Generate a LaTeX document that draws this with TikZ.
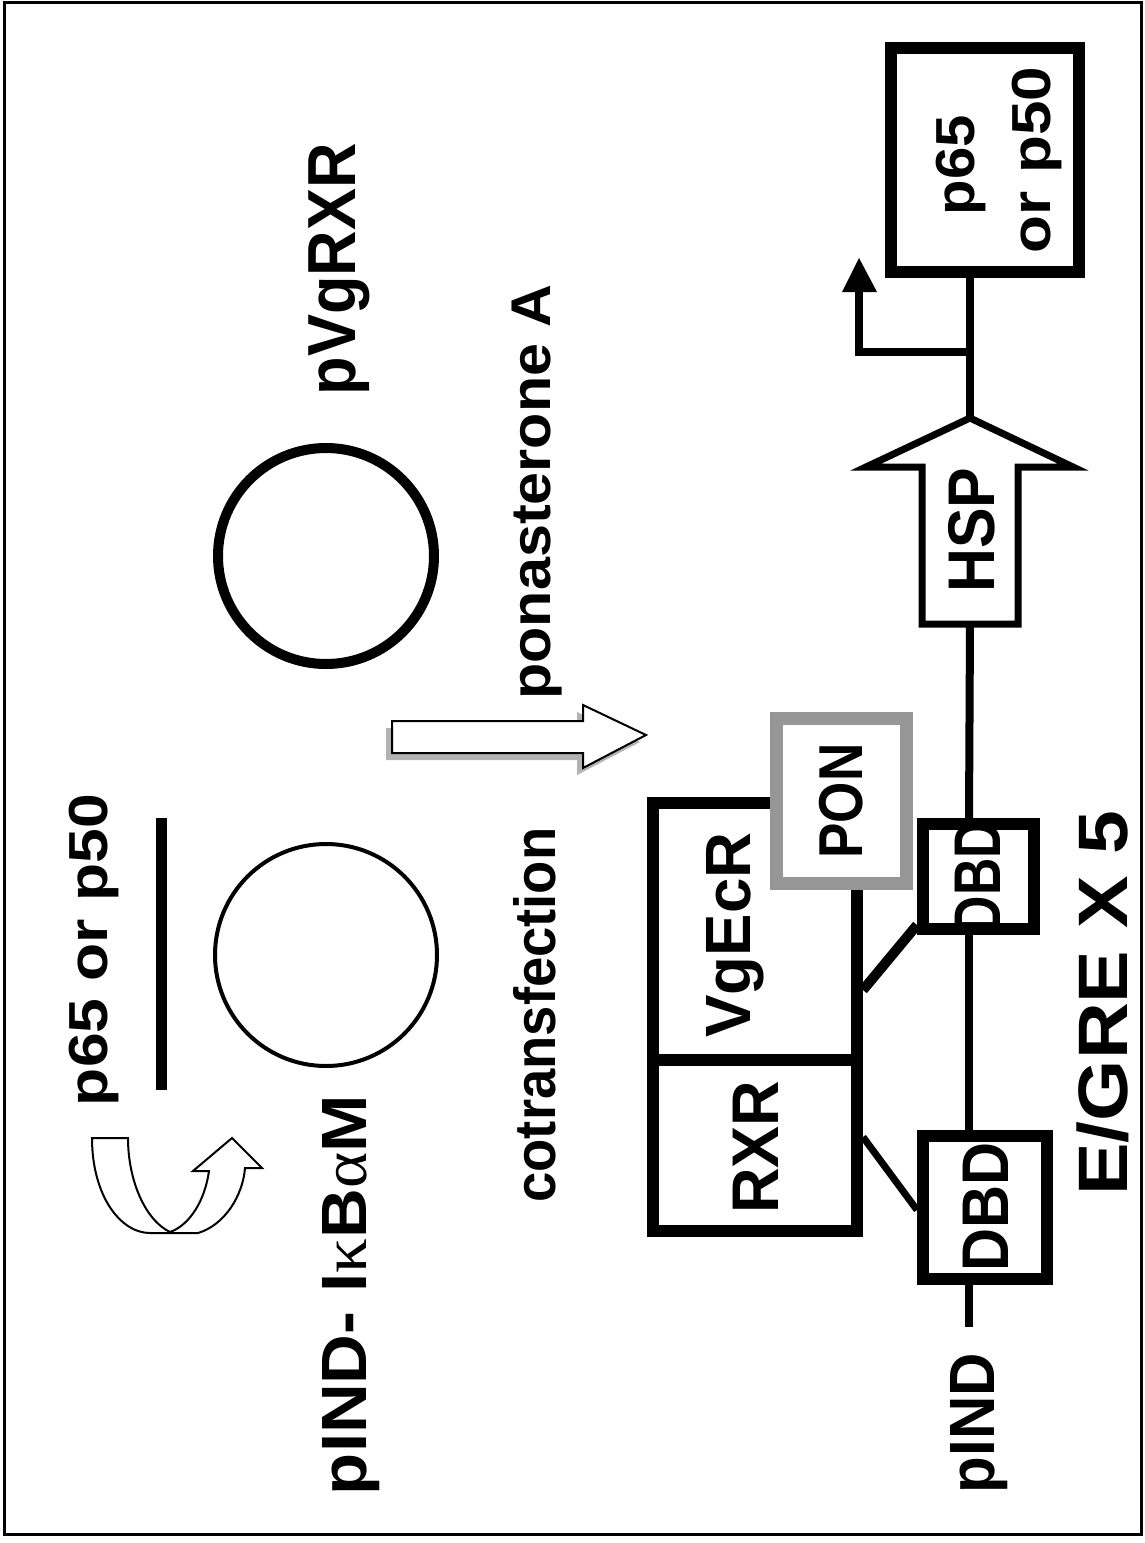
\documentclass[tikz,border=0pt]{standalone}
\usepackage{fontspec}
\setmainfont{Liberation Sans}
\newfontfamily\grk{Liberation Serif}
\usepackage{graphicx}
\newcommand\fsz[1]{\fontsize{#1}{#1}\selectfont}
\newcommand\fitw[2]{\resizebox{#1}{\height}{#2}}
\definecolor{pongray}{RGB}{150,150,150}
\begin{document}
\begin{tikzpicture}[x=1pt,y=-1pt,
  lbl/.style={rotate=90,inner sep=0pt,anchor=base,font=\bfseries},
  blk/.style={draw=black,line width=12pt,fill=white,inner sep=0pt},
  wire/.style={line width=8pt},
  hollow/.style={draw=black,line width=2pt,fill=white,line join=miter}]
\useasboundingbox (0,0) rectangle (1144,1543);
\draw[line width=3pt] (4,2) rectangle (1141,1534);

% plasmids
\node[draw,circle,line width=4pt,minimum size=222pt,inner sep=0pt] (pind) at (326,955) {};
\node[draw,circle,line width=10pt,minimum size=216pt,inner sep=0pt] (pvg) at (326,556) {};
\node[fill=black,minimum width=11pt,minimum height=272pt,inner sep=0pt] (bar) at (161.5,954) {};

% curved arrow
\draw[hollow] (92,1138) .. controls (92,1195) and (120,1233) .. (150,1233) -- (198,1233)
  .. controls (225,1225) and (243,1195) .. (245,1168) -- (262,1168) -- (232,1138) -- (193,1171) -- (209,1171)
  .. controls (205,1200) and (190,1225) .. (170,1232)
  .. controls (145,1220) and (128,1180) .. (128,1138) -- cycle;

% cotransfection arrow
\fill[gray!60] (386,728) -- (577,728) -- (577,712) -- (640,742) -- (577,775) -- (577,760) -- (386,760) -- cycle;
\draw[hollow] (392,721) -- (583,721) -- (583,705) -- (646,735) -- (583,768) -- (583,753) -- (392,753) -- cycle;

% labels upper part
\node[lbl] (t65) at (107,950) {\fsz{55}\fitw{312pt}{p65 or p50}};
\node[lbl] (tpind) at (366,1295) {\fsz{64}\fitw{400pt}{pIND- I{\grk\mdseries κ}B{\grk\mdseries α}M}};
\node[lbl] (tpvg) at (355,269) {\fsz{68}\fitw{252pt}{pVgRXR}};
\node[lbl] (tcot) at (555,1015) {\fsz{58}\fitw{375pt}{cotransfection}};
\node[lbl] (tpon) at (550,492) {\fsz{56}\fitw{415pt}{ponasterone A}};

% receptor complex
\node[blk,minimum width=204pt,minimum height=257pt] (vgbox) at (755,931.5) {};
\node[blk,minimum width=204pt,minimum height=171pt] (rxrbox) at (755,1145.5) {};
\node[draw=pongray,line width=13pt,fill=white,minimum width=130pt,minimum height=165pt,inner sep=0pt] (ponbox) at (841.5,801) {};
\node[blk,minimum width=111pt,minimum height=105pt] (dbdA) at (978.5,876.5) {};
\node[blk,minimum width=124pt,minimum height=143pt] (dbdB) at (985,1207.5) {};

\node[lbl] (tvg) at (750,935) {\fsz{64}\fitw{205pt}{VgEcR}};
\node[lbl] (trxr) at (778,1147) {\fsz{66}\fitw{133pt}{RXR}};
\node[lbl] (tponl) at (862,801) {\fsz{62}\fitw{115pt}{PON}};

% promoter / gene
\node[blk,minimum width=188pt,minimum height=224pt] (gene) at (985,160) {};
\node[lbl] (tg1) at (974,165) {\fsz{55}\fitw{100pt}{p65}};
\node[lbl] (tg2) at (1050,160) {\fsz{55}\fitw{186pt}{or p50}};

\draw[line width=7pt,fill=white,line join=miter]
  (922,624) -- (922,467) -- (866,467) -- (970,418) -- (1073,467) -- (1018,467) -- (1018,624) -- cycle;
\coordinate (hsptip) at (970,418);
\coordinate (hspbase) at (970,624);
\node[lbl] (thsp) at (994,530) {\fsz{66}\fitw{125pt}{HSP}};

% wires
\coordinate (pindend) at (969,1327);
\coordinate (branch) at (969,352);
\coordinate (corner) at (859,352);
\coordinate (tss) at (859,290);
\draw[wire] (dbdB.south -| pindend) -- (pindend);
\draw[wire] (dbdB.north -| pindend) -- (dbdA.south -| pindend);
\draw[wire] (dbdA.north -| pindend) -- (hspbase);
\draw[wire] (hsptip) -- (gene.south -| hsptip);
\draw[wire,line join=miter] (branch) -- (corner) -- (tss);
\fill (842,292) -- (877,292) -- (859,258) -- cycle;
\draw[line width=10pt] (vgbox.east |- 0,990) -- (dbdA.west |- 0,925);
\draw[line width=7pt] (rxrbox.east |- 0,1137) -- (dbdB.west |- 0,1210);

% DBD labels on top
\node[lbl] (tdA) at (1000,877) {\fsz{66}\fitw{112pt}{DBD}};
\node[lbl] (tdB) at (1008,1207) {\fsz{66}\fitw{129pt}{DBD}};

\node[lbl] (tegre) at (1127,1003) {\fsz{70}\fitw{385pt}{E/GRE X 5}};
\node[lbl] (tpIND) at (994,1423) {\fsz{64}\fitw{140pt}{pIND}};
\end{tikzpicture}
\end{document}
